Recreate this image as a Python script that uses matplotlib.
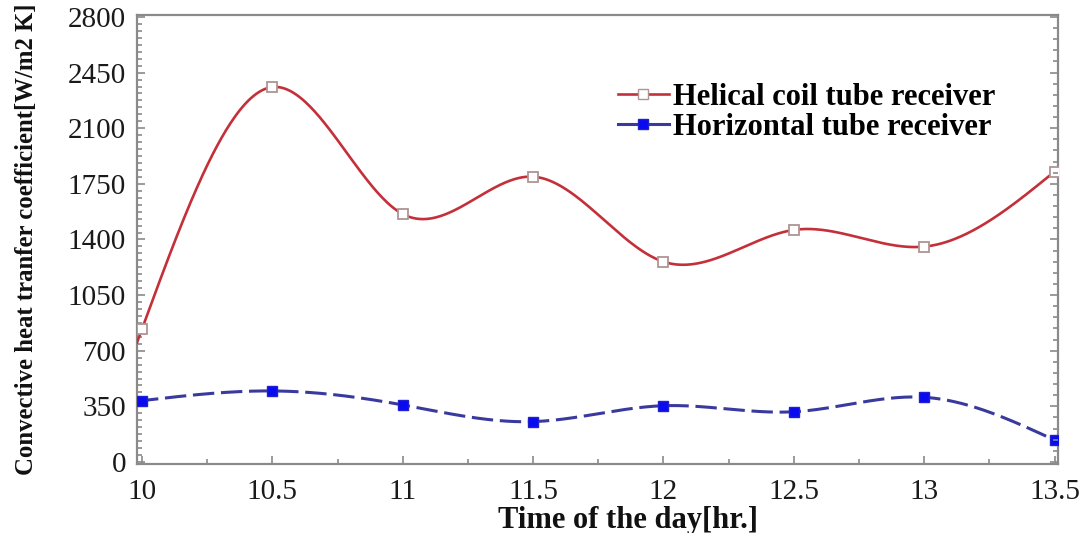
import numpy as np
import matplotlib
matplotlib.use("Agg")
import matplotlib.pyplot as plt
from matplotlib.ticker import MultipleLocator, AutoMinorLocator

# Measured convective heat transfer coefficients over the day
hours = [10.0, 10.5, 11.0, 11.5, 12.0, 12.5, 13.0, 13.5]
helical_coil = [837, 2359, 1560, 1795, 1260, 1460, 1355, 1827]
horizontal_tube = [386, 447, 359, 254, 354, 316, 407, 138]

x_ticks = [10, 10.5, 11, 11.5, 12, 12.5, 13, 13.5]
x_tick_labels = ["10", "10.5", "11", "11.5", "12", "12.5", "13", "13.5"]
y_ticks = [0, 350, 700, 1050, 1400, 1750, 2100, 2450, 2800]

series_labels = ["Helical coil tube receiver", "Horizontal tube receiver"]


def natural_cubic_spline(x, y, xs):
    """Evaluate a natural cubic spline through (x, y) at xs (end segments extrapolate)."""
    x = np.asarray(x, float)
    y = np.asarray(y, float)
    n = len(x)
    h = np.diff(x)
    A = np.zeros((n, n))
    r = np.zeros(n)
    A[0, 0] = 1.0
    A[-1, -1] = 1.0
    for i in range(1, n - 1):
        A[i, i - 1] = h[i - 1]
        A[i, i] = 2 * (h[i - 1] + h[i])
        A[i, i + 1] = h[i]
        r[i] = 6 * ((y[i + 1] - y[i]) / h[i] - (y[i] - y[i - 1]) / h[i - 1])
    M = np.linalg.solve(A, r)
    xs = np.asarray(xs, float)
    idx = np.clip(np.searchsorted(x, xs) - 1, 0, n - 2)
    x0, x1 = x[idx], x[idx + 1]
    hh = x1 - x0
    a = (x1 - xs) / hh
    b = (xs - x0) / hh
    return (a * y[idx] + b * y[idx + 1]
            + ((a ** 3 - a) * M[idx] + (b ** 3 - b) * M[idx + 1]) * hh ** 2 / 6.0)


plt.rcParams["font.family"] = ["Liberation Serif", "DejaVu Serif"]

fig = plt.figure(figsize=(10.86, 5.33), dpi=100)
ax = fig.add_axes([0.1262, 0.1295, 0.8476, 0.8424])

x_min, x_max = 9.981, 13.5115
ax.set_xlim(x_min, x_max)
ax.set_ylim(-12.6, 2812.6)

xs = np.linspace(x_min, hours[-1], 600)

red = "#c4303a"
blue_line = "#3a3a9e"

ax.plot(xs, natural_cubic_spline(hours, helical_coil, xs), color=red, lw=1.9,
        zorder=3)
ax.plot(hours, helical_coil, linestyle="none", marker="s", markersize=7.5,
        markerfacecolor="white", markeredgecolor="#b09494", markeredgewidth=1.3,
        zorder=4)

blue_curve, = ax.plot(xs, natural_cubic_spline(hours, horizontal_tube, xs),
                      color=blue_line, lw=2.2, zorder=3)
blue_curve.set_dashes((7, 2.2))
ax.plot(hours, horizontal_tube, linestyle="none", marker="s", markersize=7,
        markerfacecolor="#0a0af0", markeredgecolor="#2020d0", zorder=4)

# Legend entries: line with marker in the middle
h1, = ax.plot([], [], color=red, lw=1.9, marker="s", markersize=7.5,
              markerfacecolor="white", markeredgecolor="#b09494")
h2, = ax.plot([], [], color=blue_line, lw=2.2, marker="s", markersize=7,
              markerfacecolor="#0a0af0", markeredgecolor="#2020d0")
leg = ax.legend([h1, h2], series_labels, loc="center left",
                bbox_to_anchor=(0.522, 0.783), frameon=False, borderpad=0,
                borderaxespad=0, handlelength=1.67, handletextpad=0.13,
                labelspacing=0.05,
                prop={"family": "Liberation Serif", "weight": "bold", "size": 22})

ax.set_xticks(x_ticks)
ax.set_xticklabels(x_tick_labels)
ax.xaxis.set_minor_locator(MultipleLocator(0.25))
ax.set_yticks(y_ticks)
ax.yaxis.set_minor_locator(AutoMinorLocator(8))

spine_color = "#8a8a8a"
for s in ax.spines.values():
    s.set_color(spine_color)
    s.set_linewidth(1.6)

ax.tick_params(axis="both", which="both", direction="in", colors=spine_color,
               labelcolor="#1a1a1a", width=1.2)
ax.tick_params(axis="both", which="major", length=6, labelsize=21)
ax.tick_params(axis="y", which="major", pad=8)
ax.tick_params(axis="x", which="major", pad=11)
ax.tick_params(axis="both", which="minor", length=3.5)
ax.tick_params(axis="x", which="both", top=False)

# Right-hand tick marks
ax_r = ax.twinx()
ax_r.set_ylim(ax.get_ylim())
ax_r.set_yticks(y_ticks)
ax_r.yaxis.set_minor_locator(AutoMinorLocator(5))
ax_r.tick_params(axis="y", which="both", direction="in", colors=spine_color,
                 labelright=False, width=1.2)
ax_r.tick_params(axis="y", which="major", length=6)
ax_r.tick_params(axis="y", which="minor", length=3.5)
for s in ax_r.spines.values():
    s.set_visible(False)

ax.set_xlabel("Time of the day[hr.]", fontsize=22, fontweight="bold",
              color="#111111")
ax.xaxis.set_label_coords(0.533, -0.0935)
ax.set_ylabel("Convective heat tranfer coefficient[W/m2 K]", fontsize=17.8,
              fontweight="bold", color="#111111")
ax.yaxis.set_label_coords(-0.1075, 0.5)

fig.savefig("out.png", dpi=100)
